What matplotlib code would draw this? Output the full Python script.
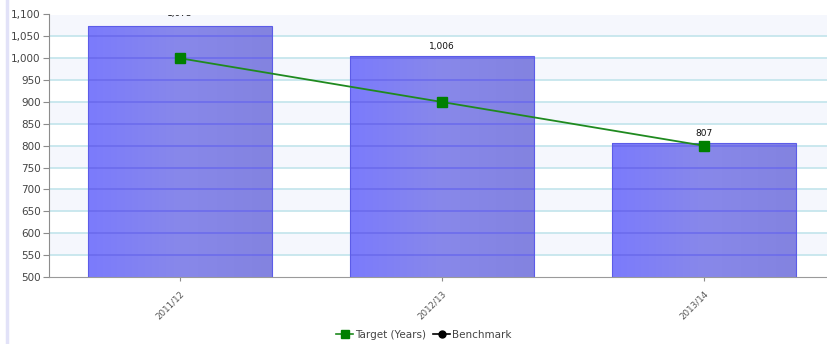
import matplotlib.pyplot as plt
import numpy as np
from matplotlib.lines import Line2D

# chart data
categories = ['2011/12', '2012/13', '2013/14']
actual = [1073, 1006, 807]
target = [1000, 900, 800]
y_ticks = list(range(500, 1101, 50))

fig = plt.figure(figsize=(8.27, 3.44), dpi=100)
ax = fig.add_axes([49 / 827, 67 / 344, 786 / 827, 262.5 / 344])
ax.set_xlim(-0.5, 2.5)
ax.set_ylim(500, 1100)

# alternating bands and grid
for i, lo in enumerate(y_ticks[:-1]):
    if i % 2 == 1:
        ax.axhspan(lo, lo + 50, color='#f5f7fd', zorder=0, lw=0)
for v in y_ticks[1:]:
    ax.axhline(v, color='#c6e6ed', lw=1.3, zorder=1)

# bars with a left-to-right gradient
x = np.arange(len(categories))
width = 0.7
bars = ax.bar(x, actual, width, bottom=0, color='none', edgecolor='#5c5ce8',
              lw=0.8, zorder=3)
grad = np.linspace(0, 1, 64).reshape(1, -1)
cmap = plt.matplotlib.colors.LinearSegmentedColormap.from_list(
    'barfill', ['#7b7bfc', '#8888ea', '#8383e0'])
for b in bars:
    x0 = b.get_x()
    im = ax.imshow(grad, cmap=cmap, aspect='auto', zorder=2,
                   extent=[x0, x0 + b.get_width(), 500, b.get_height()])
    im.set_clip_path(b)
    # grid lines seen through the bar
    inside = [v for v in y_ticks[1:] if v < b.get_height()]
    ax.hlines(inside, x0, x0 + b.get_width(), color='#6a6aec', lw=1.1, zorder=2.5)

# value labels; one near the top edge gets cut by the plot area
ymax = ax.get_ylim()[1]
for xi, v in zip(x, actual):
    if v + 30 > ymax:
        ax.text(xi, ymax - 2.5, f'{v:,}', ha='center', va='baseline',
                fontsize=6.5, color='#111111', zorder=5, clip_on=True)
    else:
        ax.text(xi, v + 10, f'{v:,}', ha='center', va='bottom',
                fontsize=6.5, color='#111111', zorder=5)

ax.plot(x, target, color='#1f8a1f', lw=1.3, marker='s', markersize=7,
        markerfacecolor='#008000', markeredgecolor='#008000', zorder=4)

# axes styling
for s in ['top', 'right']:
    ax.spines[s].set_visible(False)
ax.spines['left'].set_color('#8c8c8c')
ax.spines['bottom'].set_color('#9a9a9a')
ax.set_yticks(y_ticks)
ax.set_yticklabels([f'{v:,}' for v in y_ticks])
ax.tick_params(axis='y', colors='#8c8c8c', labelcolor='#444444', labelsize=7.5,
               length=4, width=0.8, pad=2)
ax.set_xticks(x)
ax.set_xticklabels(categories, rotation=45, ha='right', rotation_mode='anchor')
ax.tick_params(axis='x', colors='#8c8c8c', labelcolor='#555555', labelsize=6.3,
               length=3, width=0.8, pad=6)

handles = [
    Line2D([], [], color='#1f8a1f', marker='s', markersize=6,
           markerfacecolor='#008000', markeredgecolor='#008000', lw=1.2),
    Line2D([], [], color='black', marker='o', markersize=5, lw=1.2),
]
fig.legend(handles, ['Target (Years)', 'Benchmark'], loc='center',
           bbox_to_anchor=(424 / 827, 1 - 335 / 344), ncol=2, frameon=False,
           fontsize=7.5, handlelength=1.6, handletextpad=0.2, columnspacing=0.7,
           labelcolor='#444444')

# left border strip
fig.add_artist(Line2D([7 / 827, 7 / 827], [0, 1], color='#e2e2f8', lw=2.5,
                      transform=fig.transFigure))

fig.savefig('out.png', dpi=100)
